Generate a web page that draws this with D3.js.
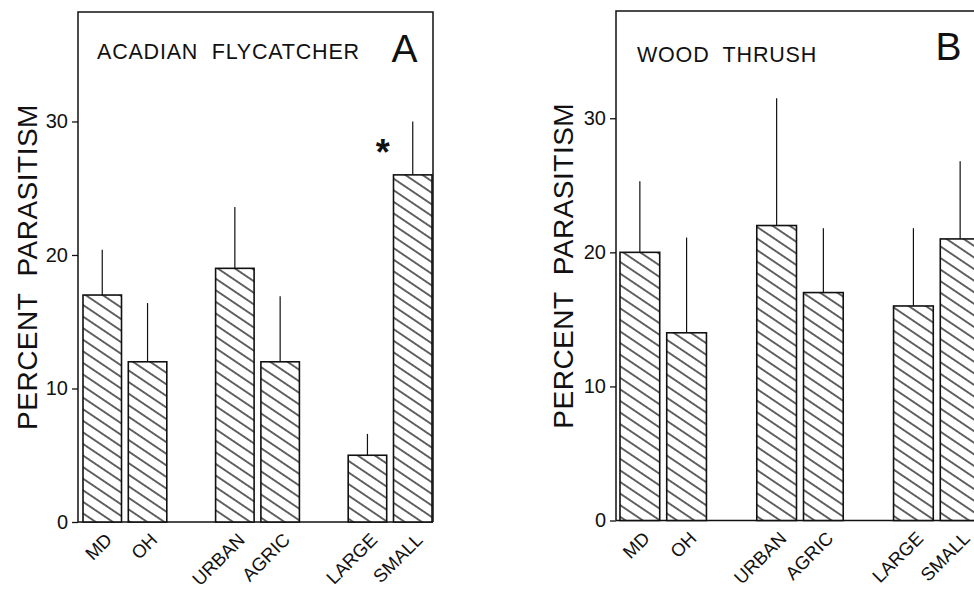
<!DOCTYPE html>
<html><head><meta charset="utf-8">
<script src="https://cdn.jsdelivr.net/npm/d3@7"></script>
<style>body{margin:0;background:#fff}svg{display:block}</style>
</head><body>
<svg id="chart" width="974" height="590"></svg>
<script>
// ---- data ----
const categories = ["MD","OH","URBAN","AGRIC","LARGE","SMALL"];
const groupOf = ["STATE","STATE","LANDSCAPE","LANDSCAPE","SIZE","SIZE"];
const groups = ["STATE","LANDSCAPE","SIZE"];
const acadianValues = [17,12,19,12,5,26];
const acadianUpper = [20.4,16.4,23.6,16.9,6.6,30.0];
const acadianSignificant = [false,false,false,false,false,true];
const thrushValues = [20,14,22,17,16,21];
const thrushUpper = [25.3,21.1,31.5,21.8,21.8,26.8];
const thrushSignificant = [false,false,false,false,false,false];
const yTicks = [0,10,20,30];
const titles = ["ACADIAN  FLYCATCHER","WOOD  THRUSH"];
const panelLetters = ["A","B"];
const yLabel = "PERCENT  PARASITISM";

// ---- layout ----
const panels = [
  {values: acadianValues, upper: acadianUpper, sig: acadianSignificant, title: titles[0], letter: panelLetters[0],
   left: 78, right: 433, top: 12, bottom: 522, yMax: 38.2, barRange: [83, 432],
   titleX: 97, titleY: 59, letterX: 404.5, letterY: 62, yTitleX: 37},
  {values: thrushValues, upper: thrushUpper, sig: thrushSignificant, title: titles[1], letter: panelLetters[1],
   left: 616, right: 979, top: 11, bottom: 520.5, yMax: 38.0, barRange: [620, 980],
   titleX: 637, titleY: 62, letterX: 948.5, letterY: 60, yTitleX: 573}
];

const svg = d3.select("#chart");
svg.append("rect").attr("width", 974).attr("height", 590).attr("fill", "#fff");
const FONT = "'Liberation Sans', Arial, Helvetica, sans-serif";

const defs = svg.append("defs");
const pat = defs.append("pattern").attr("id", "hatch")
  .attr("patternUnits", "userSpaceOnUse")
  .attr("width", 20).attr("height", 9.6)
  .attr("patternTransform", "rotate(34)");
pat.append("rect").attr("width", 20).attr("height", 9.6).attr("fill", "#fff");
pat.append("line").attr("x1", 0).attr("x2", 20).attr("y1", 4.8).attr("y2", 4.8)
  .attr("stroke", "#111").attr("stroke-width", 1.3);

panels.forEach(p => {
  const g = svg.append("g");
  const y = d3.scaleLinear().domain([0, p.yMax]).range([p.bottom, p.top]);
  const xGroup = d3.scaleBand().domain(groups).range(p.barRange).paddingInner(0.368).paddingOuter(0);
  const xInner = d3.scaleBand().domain([0, 1]).range([0, xGroup.bandwidth()]).paddingInner(0.15).paddingOuter(0);
  const data = categories.map((c, i) => ({
    cat: c, grp: groupOf[i], idx: groupOf.slice(0, i).filter(v => v === groupOf[i]).length,
    v: p.values[i], up: p.upper[i], sig: p.sig[i]
  }));
  const bx = d => xGroup(d.grp) + xInner(d.idx);
  const bw = xInner.bandwidth();

  // frame
  g.append("path")
    .attr("d", `M${p.left},${p.bottom}V${p.top}H${p.right}V${p.bottom}`)
    .attr("fill", "none").attr("stroke", "#111").attr("stroke-width", 1.5);
  g.append("line").attr("x1", p.left).attr("x2", p.right)
    .attr("y1", p.bottom).attr("y2", p.bottom)
    .attr("stroke", "#111").attr("stroke-width", 1.5);

  // axis
  const ax = g.append("g").attr("transform", `translate(${p.left},0)`)
    .call(d3.axisLeft(y).tickValues(yTicks).tickSize(6).tickPadding(4).tickFormat(d3.format("d")));
  ax.select(".domain").remove();
  ax.selectAll("line").attr("stroke", "#111").attr("stroke-width", 1.3);
  ax.selectAll("text").attr("font-family", FONT).attr("font-size", 20).attr("fill", "#111");

  // error bars
  g.selectAll(".err").data(data).join("line")
    .attr("x1", d => bx(d) + bw / 2).attr("x2", d => bx(d) + bw / 2)
    .attr("y1", d => y(d.v)).attr("y2", d => y(d.up))
    .attr("stroke", "#111").attr("stroke-width", 1.2);

  // bars
  g.selectAll(".bar").data(data).join("rect")
    .attr("x", d => bx(d)).attr("width", bw)
    .attr("y", d => y(d.v)).attr("height", d => y(0) - y(d.v))
    .attr("fill", "url(#hatch)").attr("stroke", "#111").attr("stroke-width", 1.6);

  // significance
  g.selectAll(".sig").data(data.filter(d => d.sig)).join("text")
    .attr("x", d => bx(d) + bw / 2 - 30).attr("y", d => y(d.up) + 44)
    .attr("text-anchor", "middle").attr("font-family", FONT).attr("font-weight", "bold")
    .attr("font-size", 36).attr("fill", "#111").text("*");

  // x labels
  g.selectAll(".xl").data(data).join("text")
    .attr("transform", d => `translate(${bx(d) + bw / 2 + 11},${p.bottom + 19}) rotate(-45)`)
    .attr("text-anchor", "end").attr("font-family", FONT).attr("font-size", 18.5)
    .attr("fill", "#111").text(d => d.cat);

  // titles
  g.append("text").attr("x", p.titleX).attr("y", p.titleY)
    .attr("font-family", FONT).attr("font-size", 21.5).attr("letter-spacing", 0.8)
    .attr("fill", "#111").style("white-space", "pre").text(p.title);
  g.append("text").attr("x", p.letterX).attr("y", p.letterY).attr("text-anchor", "middle")
    .attr("font-family", FONT).attr("font-size", 39).attr("fill", "#111").text(p.letter);

  // y title
  g.append("text")
    .attr("transform", `translate(${p.yTitleX},${(p.top + p.bottom) / 2}) rotate(-90)`)
    .attr("text-anchor", "middle").attr("font-family", FONT).attr("font-size", 28)
    .attr("letter-spacing", 0.5).attr("fill", "#111").style("white-space", "pre").text(yLabel);
});
</script>
</body></html>
